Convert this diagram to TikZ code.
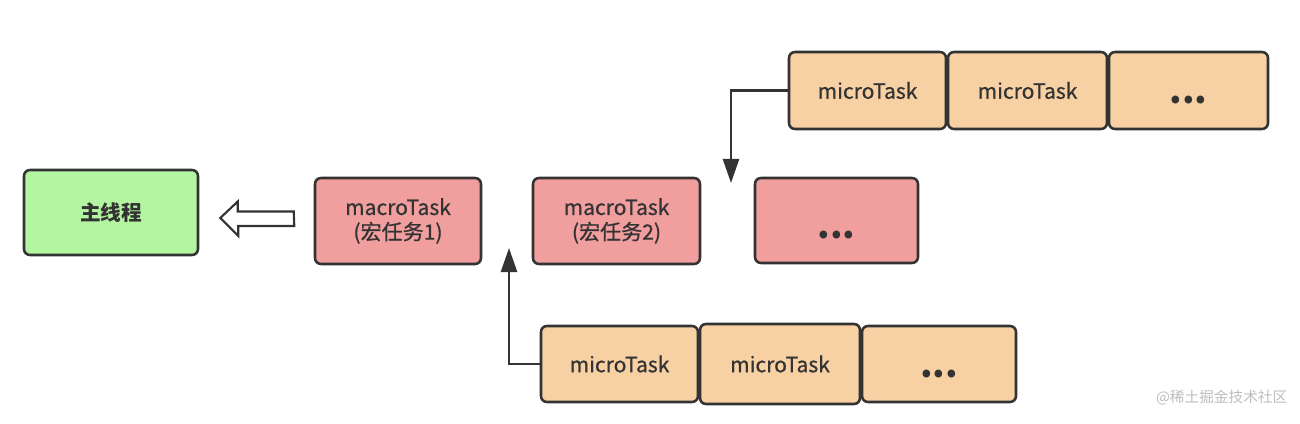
\documentclass[tikz,border=0pt]{standalone}
\usepackage{fontspec}
\setmainfont{Noto Sans CJK SC}
\newfontfamily\medfont{Noto Sans CJK SC}[FakeBold=0.7]
\usetikzlibrary{arrows.meta,calc}
\definecolor{edge}{HTML}{333333}
\definecolor{greenfill}{HTML}{B3F5A1}
\definecolor{redfill}{HTML}{F09E9E}
\definecolor{orangefill}{HTML}{F7D0A3}
\definecolor{wm}{HTML}{BDBDBD}
\tikzset{
  box/.style={draw=edge, line width=1.9pt, rounded corners=4.5pt, align=center,
    text=edge, font=\medfont\fontsize{15.8}{18.5}\selectfont, inner sep=0pt},
  mainbox/.style={box, fill=greenfill, minimum width=130.5pt, minimum height=63.75pt, font=\fontsize{15.5}{18}\selectfont\bfseries},
  macrobox/.style={box, fill=redfill, minimum height=64.5pt},
  microbox/.style={box, fill=orangefill},
  dots/.style={font=\fontsize{27}{28}\selectfont\bfseries, text depth=0pt},
  conn/.style={draw=edge, line width=1.9pt, -{Triangle[length=18pt,width=12pt]}}
}
\begin{document}
\begin{tikzpicture}[x=0.75pt,y=-0.75pt]
\useasboundingbox (0,0) rectangle (1300,424);
\node[mainbox] (main) at (111,212.5) {主线程};
\node[macrobox, minimum width=124.5pt] (m1) at (398,221) {macroTask\\(宏任务1)};
\node[macrobox, minimum width=125.25pt] (m2) at (616.5,221) {macroTask\\(宏任务2)};
\node[macrobox, minimum width=122.25pt, minimum height=63.75pt, dots, text height=27pt] (m3) at (836.5,220.5) {...};
\node[microbox, minimum width=117.75pt, minimum height=57.75pt] (t1) at (867.5,90.5) {microTask};
\node[microbox, minimum width=119.25pt, minimum height=57.75pt] (t2) at (1027.5,90.5) {microTask};
\node[microbox, minimum width=119.25pt, minimum height=57.75pt, dots, text height=20pt] (t3) at (1188.5,90.5) {...};
\node[microbox, minimum width=117.75pt, minimum height=57pt] (b1) at (619.5,364) {microTask};
\node[microbox, minimum width=120pt, minimum height=60pt] (b2) at (780,364) {microTask};
\node[microbox, minimum width=115.5pt, minimum height=57pt, dots, text height=20pt] (b3) at (939,364) {...};
\node[font=\fontsize{11}{13}\selectfont, text=wm, anchor=east] (wmk) at (1292,398) {@稀土掘金技术社区};
% hollow arrow from m1 to main
\coordinate (ha) at ($(m1.west)+(-20,-3)$);
\draw[draw=edge, line width=1.6pt, fill=white, line join=miter]
  (ha) ++(0,-6.5) -- ++(-56,0) -- ++(0,-10) -- ($(main.east)+(21,5.5)$) -- ++(18,18) -- ++(0,-10) -- ++(56,0) -- cycle;
% connectors
\coordinate (dcorner) at (731,90.5);
\coordinate (dtip) at (731,183);
\draw[conn] (t1.west) -- (dcorner) -- (dtip);
\coordinate (ucorner) at (509,364);
\coordinate (utip) at (509,248);
\draw[conn] (b1.west) -- (ucorner) -- (utip);
\end{tikzpicture}
\end{document}
